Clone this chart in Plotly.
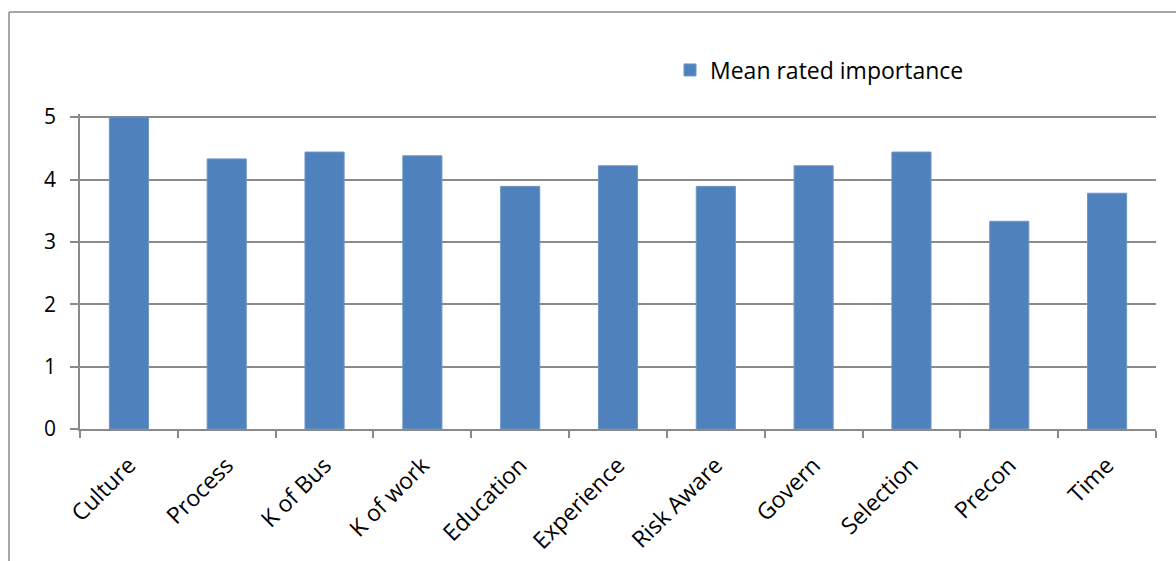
import plotly.graph_objects as go

categories = ["Culture", "Process", "K of Bus", "K of work", "Education", "Experience",
              "Risk Aware", "Govern", "Selection", "Precon", "Time"]
mean_rated = [5.0, 4.33, 4.44, 4.38, 3.89, 4.22, 3.89, 4.22, 4.44, 3.33, 3.78]
series_name = "Mean rated importance"
y_ticks = [0, 1, 2, 3, 4, 5]

W, H = 1176, 561
L, R, T, B = 80, 20, 114, 132
pw, ph = W - L - R, H - T - B

def px_x(x):
    return (x - L) / pw

def px_y(y):
    return (H - B - y) / ph

FONT = "Open Sans"
GRID = "#8a8a8a"

fig = go.Figure()
fig.add_trace(go.Bar(
    x=categories, y=mean_rated, name=series_name,
    marker=dict(color="#4F81BD", line=dict(color="#6d97c9", width=1)),
    width=0.4, showlegend=True,
))

fig.update_layout(
    width=W, height=H,
    margin=dict(l=L, r=R, t=T, b=B, autoexpand=False),
    paper_bgcolor="white", plot_bgcolor="white",
    font=dict(family=FONT, size=20, color="black"),
    showlegend=True,
    legend=dict(x=px_x(670), y=px_y(70), xanchor="left", yanchor="middle",
                font=dict(family=FONT, size=23, color="black"),
                bgcolor="rgba(0,0,0,0)", itemwidth=30),
    xaxis=dict(
        showline=True, linecolor=GRID, linewidth=1.5,
        ticks="outside", ticklen=7, tickcolor=GRID, tickwidth=1.5,
        tickson="boundaries", tickangle=-45, ticklabelstandoff=12,
        tickfont=dict(family=FONT, size=23, color="black"),
        showgrid=False, range=[-0.5, len(categories) - 0.5],
    ),
    yaxis=dict(
        range=[0, 5.05], tickvals=y_ticks,
        showline=True, linecolor=GRID, linewidth=1.5,
        ticks="outside", ticklen=8, tickcolor=GRID, tickwidth=1.5,
        ticklabelstandoff=10,
        showgrid=True, gridcolor=GRID, gridwidth=1.5,
        zeroline=False,
        tickfont=dict(family=FONT, size=21, color="black"),
    ),
    bargap=0.6,
    shapes=[
        dict(type="line", xref="paper", yref="paper",
             x0=px_x(9), x1=px_x(9), y0=px_y(12), y1=px_y(H + 5),
             line=dict(color=GRID, width=1.5)),
        dict(type="line", xref="paper", yref="paper",
             x0=px_x(9), x1=px_x(W + 5), y0=px_y(12), y1=px_y(12),
             line=dict(color=GRID, width=1.5)),
    ],
)

fig.write_html("out.html")
